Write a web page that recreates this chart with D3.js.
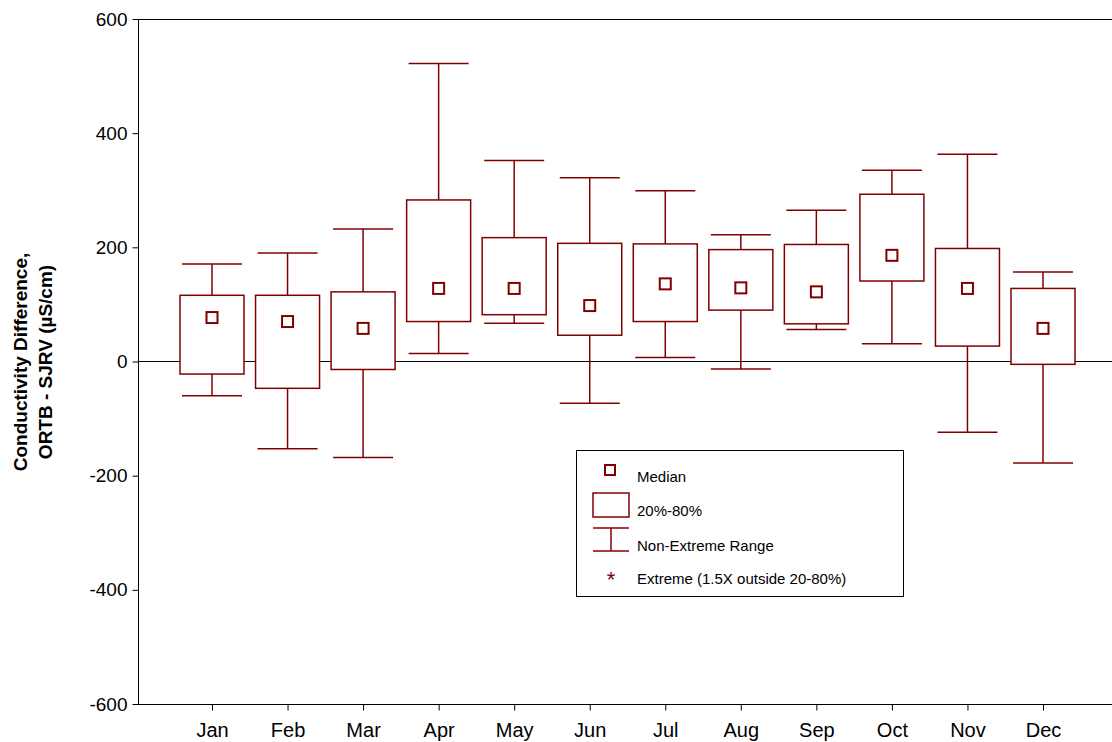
<!DOCTYPE html>
<html lang="en">
<head>
<meta charset="utf-8">
<script src="https://d3js.org/d3.v7.min.js"></script>
<style>
body { margin: 0; background: #fff; font-family: Arial, "Liberation Sans", sans-serif; }
</style>
</head>
<body>
<script>
// box plot values
var months = ["Jan","Feb","Mar","Apr","May","Jun","Jul","Aug","Sep","Oct","Nov","Dec"];
var whiskHi = [171, 190, 232, 522, 352, 322, 299, 222, 265, 335, 363, 157];
var boxHi   = [116, 116, 122, 283, 217, 207, 206, 196, 205, 293, 198, 128];
var median  = [ 77,  70,  58, 128, 128,  98, 136, 129, 122, 186, 128,  58];
var boxLo   = [-22, -47, -14,  70,  82,  46,  70,  90,  66, 141,  27,  -5];
var whiskLo = [-60,-153,-168,  14,  67, -73,   7, -13,  56,  31,-124,-178];
var yTicks = [-600, -400, -200, 0, 200, 400, 600];

var width = 1112, height = 742;
var col = "#800000";
var svg = d3.select("body").append("svg").attr("width", width).attr("height", height);

var x = d3.scalePoint().domain(months).range([212, 1043]);
var y = d3.scaleLinear().domain([-600, 600]).range([704, 19]);

// frame
svg.append("rect").attr("x", 138.5).attr("y", 19.5).attr("width", 980).attr("height", 685)
  .attr("fill", "none").attr("stroke", "#000");

var yAxis = svg.append("g").attr("transform", "translate(138.5,0)")
  .call(d3.axisLeft(y).tickValues(yTicks).tickSize(6).tickPadding(5).tickFormat(function(d) { return String(d); }));
yAxis.select(".domain").remove();
yAxis.selectAll("text").attr("font-size", 19).attr("font-family", "Arial, Liberation Sans, sans-serif").attr("fill", "#000");

var xAxis = svg.append("g").attr("transform", "translate(0,704.5)")
  .call(d3.axisBottom(x).tickSize(6).tickPadding(12));
xAxis.select(".domain").remove();
xAxis.selectAll("text").attr("font-size", 20).attr("font-family", "Arial, Liberation Sans, sans-serif").attr("fill", "#000");

// zero line
svg.append("line").attr("x1", 138).attr("x2", 1112).attr("y1", y(0)).attr("y2", y(0)).attr("stroke", "#000");

svg.append("text").attr("transform", "translate(27,362) rotate(-90)").attr("text-anchor", "middle")
  .attr("font-size", 19).attr("font-weight", "bold").text("Conductivity Difference,");
svg.append("text").attr("transform", "translate(52,362) rotate(-90)").attr("text-anchor", "middle")
  .attr("font-size", 19).attr("font-weight", "bold").text("ORTB - SJRV (µS/cm)");

var g = svg.append("g").attr("stroke", col).attr("stroke-width", 1.5).attr("fill", "none");
months.forEach(function(m, i) {
  var cx = x(m);
  g.append("line").attr("x1", cx).attr("x2", cx).attr("y1", y(whiskHi[i])).attr("y2", y(boxHi[i]));
  g.append("line").attr("x1", cx).attr("x2", cx).attr("y1", y(boxLo[i])).attr("y2", y(whiskLo[i]));
  g.append("line").attr("x1", cx - 30).attr("x2", cx + 30).attr("y1", y(whiskHi[i])).attr("y2", y(whiskHi[i]));
  g.append("line").attr("x1", cx - 30).attr("x2", cx + 30).attr("y1", y(whiskLo[i])).attr("y2", y(whiskLo[i]));
  g.append("rect").attr("x", cx - 32).attr("width", 64)
    .attr("y", y(boxHi[i])).attr("height", y(boxLo[i]) - y(boxHi[i])).attr("fill", "#fff");
  g.append("rect").attr("x", cx - 5.5).attr("y", y(median[i]) - 5.5).attr("width", 11).attr("height", 11).attr("stroke-width", 2);
});

// legend
var lg = svg.append("g");
lg.append("rect").attr("x", 576.5).attr("y", 450.5).attr("width", 327).attr("height", 146)
  .attr("fill", "#fff").attr("stroke", "#000");
lg.append("rect").attr("x", 605).attr("y", 465).attr("width", 10).attr("height", 10)
  .attr("fill", "none").attr("stroke", col).attr("stroke-width", 2);
lg.append("rect").attr("x", 593).attr("y", 493).attr("width", 36).attr("height", 24)
  .attr("fill", "none").attr("stroke", col).attr("stroke-width", 1.5);
lg.append("line").attr("x1", 593).attr("x2", 629).attr("y1", 528).attr("y2", 528).attr("stroke", col).attr("stroke-width", 1.5);
lg.append("line").attr("x1", 593).attr("x2", 629).attr("y1", 551).attr("y2", 551).attr("stroke", col).attr("stroke-width", 1.5);
lg.append("line").attr("x1", 611).attr("x2", 611).attr("y1", 528).attr("y2", 551).attr("stroke", col).attr("stroke-width", 1.5);
lg.append("text").attr("x", 611).attr("y", 587).attr("text-anchor", "middle").attr("fill", col).attr("font-size", 22).text("*");
var labels = [["Median", 482], ["20%-80%", 516], ["Non-Extreme Range", 551], ["Extreme (1.5X outside 20-80%)", 584]];
labels.forEach(function(l) {
  lg.append("text").attr("x", 637).attr("y", l[1]).attr("font-size", 15).text(l[0]);
});
</script>
</body>
</html>
